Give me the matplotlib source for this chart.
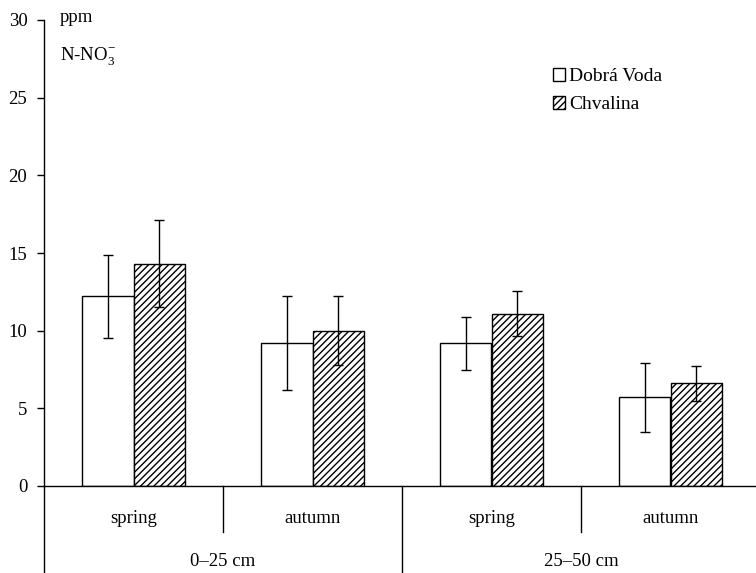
import matplotlib
matplotlib.use('Agg')
import matplotlib.pyplot as plt
import matplotlib.transforms as mtransforms
import numpy as np

plt.rcParams['font.family'] = 'serif'
plt.rcParams['font.serif'] = ['Liberation Serif', 'DejaVu Serif']
plt.rcParams['hatch.linewidth'] = 1.0
plt.rcParams['mathtext.fontset'] = 'custom'
plt.rcParams['mathtext.rm'] = 'Liberation Serif'

# data (ppm N-NO3-)
seasons = ['spring', 'autumn', 'spring', 'autumn']
depths = ['0\u201325 cm', '25\u201350 cm']
dobra_voda = [12.2, 9.2, 9.2, 5.7]
dobra_voda_err = [2.7, 3.0, 1.7, 2.2]
chvalina = [14.3, 10.0, 11.1, 6.6]
chvalina_err = [2.8, 2.2, 1.45, 1.15]

fig = plt.figure(figsize=(7.56, 5.73), dpi=100)
ax = fig.add_axes([44 / 756, 87 / 573, 716 / 756, 466 / 573])

x = np.arange(len(seasons))
w = 0.285
ax.bar(x - w / 2, dobra_voda, w, color='white', edgecolor='black', linewidth=1.0,
       label='Dobrá Voda', zorder=2)
ax.bar(x + w / 2, chvalina, w, color='white', edgecolor='black', linewidth=1.0,
       hatch='/////', label='Chvalina', zorder=2)
ax.errorbar(x - w / 2, dobra_voda, yerr=dobra_voda_err, fmt='none', ecolor='black',
            elinewidth=1.0, capsize=3.6, capthick=1.0, zorder=3)
ax.errorbar(x + w / 2, chvalina, yerr=chvalina_err, fmt='none', ecolor='black',
            elinewidth=1.0, capsize=3.6, capthick=1.0, zorder=3)

ax.set_xlim(-0.5, 3.5)
ax.set_ylim(0, 30)
ax.set_yticks([0, 5, 10, 15, 20, 25, 30])
ax.set_xticks([])
ax.tick_params(axis='y', direction='out', length=5, width=1.0, pad=7, labelsize=13.5)
for s in ['top', 'right']:
    ax.spines[s].set_visible(False)
ax.spines['left'].set_linewidth(1.0)
ax.spines['bottom'].set_linewidth(1.0)

# category area below axis
trans = mtransforms.blended_transform_factory(ax.transData, ax.transAxes)
ax.plot([-0.5, -0.5], [0, -0.19], color='black', lw=1.0, transform=trans, clip_on=False)
for xd in [0.5, 2.5]:
    ax.plot([xd, xd], [0, -0.0987], color='black', lw=1.0, transform=trans, clip_on=False)
ax.plot([1.5, 1.5], [0, -0.19], color='black', lw=1.0, transform=trans, clip_on=False)

for xi, s in zip(x, seasons):
    ax.text(xi, -0.0687, s, transform=trans, ha='center', va='center', fontsize=13.5)
for xi, d in zip([0.5, 2.5], depths):
    ax.text(xi, -0.163, d, transform=trans, ha='center', va='center', fontsize=13.5)

# unit label
ax.text(60 / 756, 1 - 18 / 573, 'ppm', transform=fig.transFigure, ha='left',
        va='center', fontsize=13.5)
ax.text(60 / 756, 1 - 57 / 573, r'N-NO$_3^{-}$', transform=fig.transFigure,
        ha='left', va='center', fontsize=13.5)

ax.legend(loc='upper left', bbox_to_anchor=(543 / 756, 1 - 58 / 573),
          bbox_transform=fig.transFigure, frameon=False, fontsize=14,
          handlelength=0.65, handleheight=0.65, handletextpad=0.2,
          labelspacing=0.55, borderpad=0)

plt.savefig('out.png', dpi=100)
plt.close()
